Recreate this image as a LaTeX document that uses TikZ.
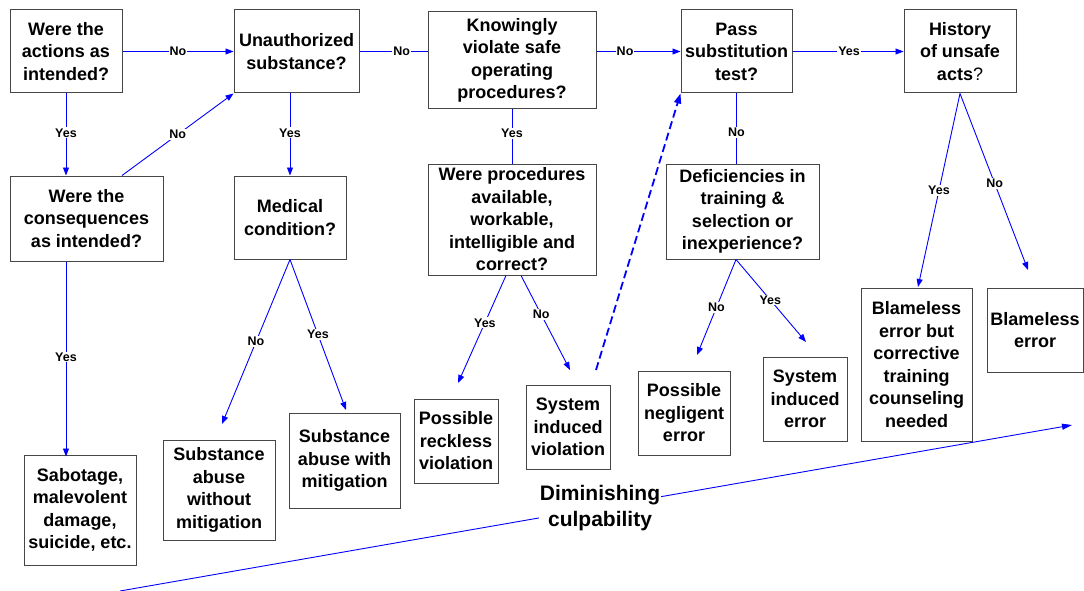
\documentclass[tikz,border=0pt]{standalone}
\usepackage{fontspec}
\setmainfont{Liberation Sans}
\usetikzlibrary{arrows.meta}
\definecolor{flowblue}{RGB}{0,0,255}
\definecolor{boxgray}{RGB}{70,70,70}

\begin{document}
\begin{tikzpicture}[x=1pt,y=-1pt,
    every node/.style={font=\bfseries\fontsize{18}{22.5}\selectfont},
    box/.style={draw=boxgray,line width=1pt,align=center,inner sep=1pt},
    flow/.style={flowblue,line width=0.9pt,-{Triangle[length=8pt,width=6pt]}},
    link/.style={flowblue,line width=0.9pt},
    lbl/.style={fill=white,inner sep=1pt,text=black,
                font=\bfseries\fontsize{12.5}{13}\selectfont}]
  \useasboundingbox (0,0) rectangle (1084,591);
  % top row of questions
  \node[box,minimum width=112pt,minimum height=83pt] (act) at (66,51.5)
    {Were the\\actions as\\intended?};
  \node[box,minimum width=125pt,minimum height=83pt] (unauth) at (296.5,51.5)
    {Unauthorized\\substance?};
  \node[box,minimum width=168pt,minimum height=97pt] (know) at (512,60.5)
    {Knowingly\\violate safe\\operating\\procedures?};
  \node[box,minimum width=111pt,minimum height=83pt] (pass) at (736.5,51.5)
    {Pass\\substitution\\test?};
  \node[box,minimum width=112pt,minimum height=83pt] (hist) at (960,51.5)
    {History\\of unsafe\\acts{\mdseries ?}};
  % second row of questions
  \node[box,minimum width=153pt,minimum height=85pt] (conseq) at (86.5,218.5)
    {Were the\\consequences\\as intended?};
  \node[box,minimum width=112pt,minimum height=83pt] (med) at (290,217.5)
    {Medical\\condition?};
  \node[box,minimum width=168pt,minimum height=111pt] (proc) at (512,219.5)
    {Were procedures\\available,\\workable,\\intelligible and\\correct?};
  \node[box,minimum width=153pt,minimum height=95pt] (def) at (742.5,211.5)
    {Deficiencies in\\training \&\\selection or\\inexperience?};
  % outcomes
  \node[box,minimum width=112pt,minimum height=110pt] (sab) at (80,510)
    {Sabotage,\\malevolent\\damage,\\suicide, etc.};
  \node[box,minimum width=112pt,minimum height=100pt] (nomit) at (219,490)
    {Substance\\abuse\\without\\mitigation};
  \node[box,minimum width=111pt,minimum height=95pt] (wmit) at (344.5,460.5)
    {Substance\\abuse with\\mitigation};
  \node[box,minimum width=84pt,minimum height=84pt] (reck) at (456,441)
    {Possible\\reckless\\violation};
  \node[box,minimum width=84pt,minimum height=84pt] (sysv) at (568,427)
    {System\\induced\\violation};
  \node[box,minimum width=92pt,minimum height=84pt] (negl) at (684,413)
    {Possible\\negligent\\error};
  \node[box,minimum width=84pt,minimum height=84pt] (syse) at (805,399)
    {System\\induced\\error};
  \node[box,minimum width=111pt,minimum height=153pt] (bbut) at (916.5,364.5)
    {Blameless\\error but\\corrective\\training\\counseling\\needed};
  \node[box,minimum width=96pt,minimum height=84pt] (blame) at (1035,330)
    {Blameless\\error};
  % free ends of the arrows
  \coordinate (medNo) at (222,424);
  \coordinate (medYes) at (346,410);
  \coordinate (procYes) at (458,383);
  \coordinate (procNo) at (570,370);
  \coordinate (defNo) at (697,355);
  \coordinate (defYes) at (806,342);
  \coordinate (histYes) at (918,287);
  \coordinate (histNo) at (1028,270);
  \coordinate (dashStart) at (596,370);
  \coordinate (dimA) at (120,591);
  \coordinate (dimB) at (1072,425);
  % along the top
  \draw[flow] (act.east) -- (unauth.west) node[lbl,pos=0.5]{No};
  \draw[link] (unauth.east) -- (know.west|-unauth.east) node[lbl,pos=0.62]{No};
  \draw[flow] (know.east|-pass.west) -- (pass.west) node[lbl,pos=0.34]{No};
  \draw[flow] (pass.east) -- (hist.west) node[lbl,pos=0.51]{Yes};
  % downwards
  \draw[flow] (act.south) -- (act.south|-conseq.north) node[lbl,pos=0.48]{Yes};
  \draw[flow] ([xshift=35.5pt]conseq.north) -- (unauth.south west) node[lbl,pos=0.5]{No};
  \draw[flow] (med.north|-unauth.south) -- (med.north) node[lbl,pos=0.48]{Yes};
  \draw[link] (know.south) -- (proc.north) node[lbl,pos=0.44]{Yes};
  \draw[link] (pass.south) -- (pass.south|-def.north) node[lbl,pos=0.56]{No};
  \draw[flow] (act.south|-conseq.south) -- ([yshift=-2pt]act.south|-sab.north) node[lbl,pos=0.49]{Yes};
  \draw[flow] (med.south) -- (medNo) node[lbl,pos=0.5]{No};
  \draw[flow] (med.south) -- (medYes) node[lbl,pos=0.5]{Yes};
  \draw[flow] ([xshift=-6pt]proc.south) -- (procYes) node[lbl,pos=0.44]{Yes};
  \draw[flow] ([xshift=9pt]proc.south) -- (procNo) node[lbl,pos=0.41]{No};
  \draw[flow] ([xshift=-6.5pt]def.south) -- (defNo) node[lbl,pos=0.5]{No};
  \draw[flow] ([xshift=-6.5pt]def.south) -- (defYes) node[lbl,pos=0.49]{Yes};
  \draw[flow] (hist.south) -- (histYes) node[lbl,pos=0.5]{Yes};
  \draw[flow] (hist.south) -- (histNo) node[lbl,pos=0.51]{No};
  % back to the substitution test
  \draw[flow,line width=1.8pt,dash pattern=on 8pt off 4pt,
        -{Triangle[length=10pt,width=7pt]}] (dashStart) -- (pass.south west);
  % culpability scale
  \draw[flow,-{Triangle[length=10pt,width=6pt]}] (dimA) -- (dimB);
  \node[fill=white,inner sep=1pt,align=center,
        font=\bfseries\fontsize{21}{26}\selectfont] (dim) at (600,508)
    {Diminishing\\culpability};
\end{tikzpicture}
\end{document}
